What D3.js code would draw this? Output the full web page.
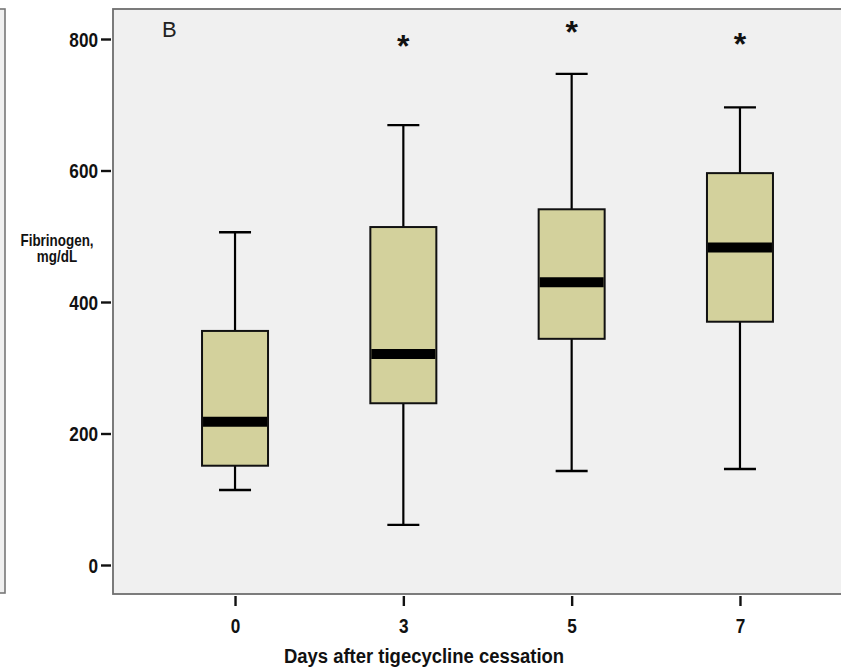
<!DOCTYPE html>
<html>
<head>
<meta charset="utf-8">
<script src="https://cdn.jsdelivr.net/npm/d3@7"></script>
<style>
  html, body { margin: 0; padding: 0; background: #ffffff; }
  svg { display: block; }
</style>
</head>
<body>
<svg id="chart" width="841" height="667"></svg>
<script>
// ---- data ----
const categories   = ["0", "3", "5", "7"];
const whiskerLow   = [114, 61, 143, 146];
const q1Values     = [151, 246, 344, 370];
const medianValues = [218, 321, 430, 483];
const q3Values     = [356, 514, 541, 596];
const whiskerHigh  = [506, 669, 747, 696];
const extremeCats  = ["3", "5", "7"];
const extremeVals  = [800, 822, 803];
const yTicks       = [0, 200, 400, 600, 800];
const panelLabel   = "B";
const xTitle       = "Days after tigecycline cessation";
const yTitleLines  = ["Fibrinogen,", "mg/dL"];

const boxes = categories.map((c, i) => ({
  cat: c, lo: whiskerLow[i], q1: q1Values[i], med: medianValues[i],
  q3: q3Values[i], hi: whiskerHigh[i]
}));

const svg = d3.select("#chart");
const frame = { left: 113, top: 9, right: 862, bottom: 594 };
const font = "'Liberation Sans', Arial, sans-serif";
const tickSqueeze = 0.86;

const x = d3.scalePoint().domain(categories).range([frame.left, frame.right]).padding(0.725);
const y = d3.scaleLinear().domain([0, 800]).range([565, 39]);

// fragment of neighbouring panel A
svg.append("rect").attr("x", -10).attr("y", frame.top).attr("width", 15)
  .attr("height", 593 - frame.top).attr("fill", "#f0f0f0")
  .attr("stroke", "#777").attr("stroke-width", 1.6);

// plot frame
svg.append("rect").attr("x", frame.left).attr("y", frame.top)
  .attr("width", frame.right - frame.left).attr("height", frame.bottom - frame.top)
  .attr("fill", "#f0f0f0").attr("stroke", "#6e6e6e").attr("stroke-width", 1.8);

// y axis
const yAxis = d3.axisLeft(y).tickValues(yTicks).tickSize(10).tickPadding(3).tickSizeOuter(0);
const gy = svg.append("g").attr("transform", `translate(${frame.left - 2},0)`).call(yAxis);
gy.select(".domain").remove();
gy.selectAll(".tick line").attr("stroke", "#111").attr("stroke-width", 2.4);
gy.selectAll(".tick text").attr("font-family", font).attr("font-weight", "bold")
  .attr("font-size", 20).attr("fill", "#111").attr("dy", "0.36em")
  .attr("x", -13 / tickSqueeze).attr("transform", `scale(${tickSqueeze},1)`);

// x axis
const xAxis = d3.axisBottom(x).tickSize(10).tickPadding(13).tickSizeOuter(0);
const gx = svg.append("g").attr("transform", `translate(0,${frame.bottom + 2})`).call(xAxis);
gx.select(".domain").remove();
gx.selectAll(".tick line").attr("stroke", "#111").attr("stroke-width", 2.4);
gx.selectAll(".tick text").attr("font-family", font).attr("font-weight", "bold")
  .attr("font-size", 20).attr("fill", "#111").attr("dy", "0.7em")
  .attr("transform", `scale(${tickSqueeze},1)`);

// axis titles
svg.append("text").attr("transform", `translate(424,663) scale(0.88,1)`)
  .attr("text-anchor", "middle")
  .attr("font-family", font).attr("font-weight", "bold").attr("font-size", 21)
  .attr("fill", "#111").text(xTitle);
svg.append("g").attr("transform", `translate(57,246) scale(0.84,1)`)
  .append("text").attr("text-anchor", "middle")
  .attr("font-family", font).attr("font-weight", "bold").attr("font-size", 16)
  .attr("fill", "#111")
  .selectAll("tspan").data(yTitleLines).join("tspan")
  .attr("x", 0).attr("dy", (d, i) => i === 0 ? 0 : 16).text(d => d);

// panel label
svg.append("text").attr("x", 162).attr("y", 37)
  .attr("font-family", font).attr("font-size", 22)
  .attr("fill", "#222").text(panelLabel);

// boxes
const boxW = 66, capW = 32;
const g = svg.append("g").selectAll("g").data(boxes).join("g")
  .attr("transform", d => `translate(${x(d.cat)},0)`);

g.append("line").attr("x1", 0).attr("x2", 0)
  .attr("y1", d => y(d.hi)).attr("y2", d => y(d.q3))
  .attr("stroke", "#000").attr("stroke-width", 2.2);
g.append("line").attr("x1", 0).attr("x2", 0)
  .attr("y1", d => y(d.q1)).attr("y2", d => y(d.lo))
  .attr("stroke", "#000").attr("stroke-width", 2.2);
g.append("line").attr("x1", -capW / 2).attr("x2", capW / 2)
  .attr("y1", d => y(d.hi)).attr("y2", d => y(d.hi))
  .attr("stroke", "#000").attr("stroke-width", 2.4);
g.append("line").attr("x1", -capW / 2).attr("x2", capW / 2)
  .attr("y1", d => y(d.lo)).attr("y2", d => y(d.lo))
  .attr("stroke", "#000").attr("stroke-width", 2.4);
g.append("rect").attr("x", -boxW / 2).attr("width", boxW)
  .attr("y", d => y(d.q3)).attr("height", d => y(d.q1) - y(d.q3))
  .attr("fill", "#d3d19c").attr("stroke", "#111").attr("stroke-width", 2);
g.append("line").attr("x1", -boxW / 2 + 1).attr("x2", boxW / 2 - 1)
  .attr("y1", d => y(d.med)).attr("y2", d => y(d.med))
  .attr("stroke", "#000").attr("stroke-width", 10);

// extreme values (asterisks)
svg.append("g").selectAll("text").data(extremeCats.map((c, i) => ({ c, v: extremeVals[i] })))
  .join("text")
  .attr("x", d => x(d.c)).attr("y", d => y(d.v) + 18)
  .attr("text-anchor", "middle")
  .attr("font-family", font).attr("font-weight", "bold")
  .attr("font-size", 32).attr("fill", "#111").text("*");
</script>
</body>
</html>
